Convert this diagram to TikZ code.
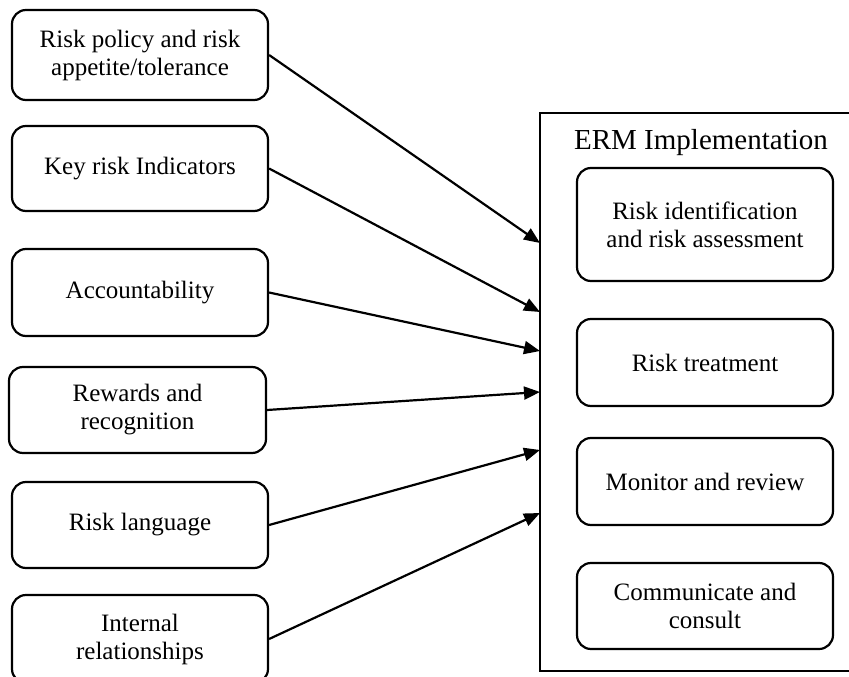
\documentclass[tikz,border=0pt]{standalone}
\usepackage{fontspec}
\setmainfont{Liberation Serif}
\usetikzlibrary{arrows.meta}
\begin{document}
\begin{tikzpicture}[x=1pt,y=-1pt,
  rbox/.style={draw,line width=2.2pt,rounded corners=14pt,align=center,inner sep=0pt,
    font=\fontsize{25}{28}\selectfont},
  lbox/.style={rbox,minimum width=256pt},
  ibox/.style={rbox,minimum width=256pt},
  frame/.style={draw,line width=2.2pt,inner sep=0pt},
  arr/.style={line width=2.2pt,-{Triangle[length=16pt,width=13pt]}}]
\useasboundingbox (0,0) rectangle (849,677);
% left boxes
\node[lbox,minimum height=90pt] (a) at (140,55) {Risk policy and risk\\appetite/tolerance};
\node[lbox,minimum height=85pt] (b) at (140,168.5) {Key risk Indicators};
\node[lbox,minimum height=87pt] (c) at (140,292.5) {Accountability};
\node[lbox,minimum width=257pt,minimum height=86pt] (d) at (137.5,410) {Rewards and\\recognition};
\node[lbox,minimum height=86pt] (e) at (140,525) {Risk language};
\node[lbox,minimum height=88pt] (f) at (140,639) {Internal\\relationships};
% ERM frame
\node[frame,minimum width=330pt,minimum height=558pt] (erm) at (705,392) {};
\node[font=\fontsize{29}{32}\selectfont,inner sep=0pt] (title) at (701,143) {ERM Implementation};
\node[ibox,minimum height=113pt] (p) at (705,224.5) {Risk identification\\and risk assessment};
\node[ibox,minimum height=87pt] (q) at (705,362.5) {Risk treatment};
\node[ibox,minimum height=87pt] (r) at (705,481.5) {Monitor and review};
\node[ibox,minimum height=86pt] (s) at (705,606) {Communicate and\\consult};
% arrow targets on the frame's left side
\coordinate (t1) at (540,243);
\coordinate (t2) at (540,312);
\coordinate (t3) at (540,351);
\coordinate (t4) at (540,392);
\coordinate (t5) at (540,450);
\coordinate (t6) at (540,513);
\draw[arr] (a.east) -- (t1);
\draw[arr] (b.east) -- (t2);
\draw[arr] (c.east) -- (t3);
\draw[arr] (d.east) -- (t4);
\draw[arr] (e.east) -- (t5);
\draw[arr] (f.east) -- (t6);
\end{tikzpicture}
\end{document}
